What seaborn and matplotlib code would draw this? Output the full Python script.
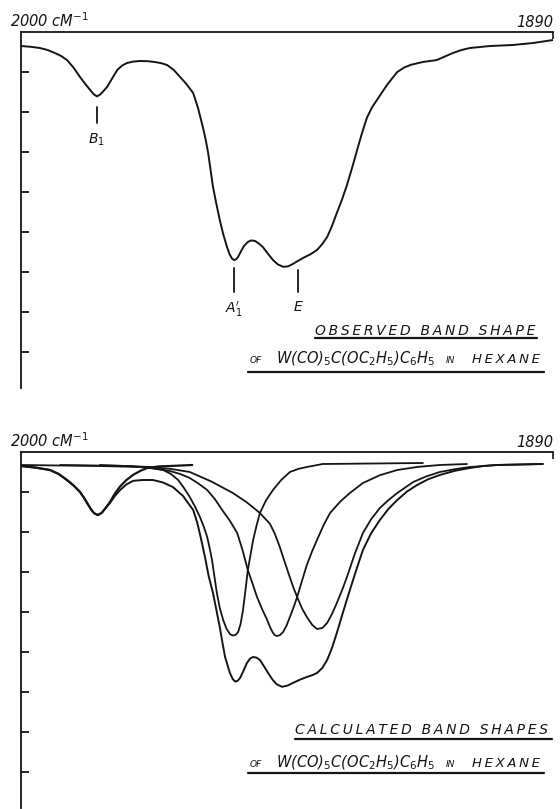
import matplotlib.pyplot as plt
import pandas as pd
import seaborn as sns
from matplotlib.lines import Line2D

# observed IR spectrum (wavenumber cm-1, % transmittance)
obs_wn = [2000.0, 1998.0, 1996.1, 1994.5, 1993.0, 1991.7, 1990.5, 1989.2, 1987.8,
          1986.7, 1985.7, 1985.0, 1984.3, 1983.6, 1982.9, 1982.2, 1981.1, 1980.1,
          1979.1, 1978.1, 1976.8, 1975.4, 1973.8, 1972.3, 1971.0, 1969.8, 1968.4,
          1967.1, 1965.8, 1964.4, 1963.4, 1962.4, 1961.8, 1961.3, 1960.8, 1960.3,
          1959.6, 1958.9, 1958.2, 1957.4, 1956.9, 1956.4, 1956.0, 1955.6, 1955.1,
          1954.7, 1953.9, 1953.1, 1952.4, 1951.6, 1950.8, 1950.0, 1948.9, 1947.9,
          1946.9, 1945.8, 1944.8, 1943.8, 1942.7, 1941.7, 1940.2, 1938.8, 1937.7,
          1936.7, 1935.7, 1934.7, 1933.6, 1932.6, 1931.5, 1930.5, 1929.5, 1928.5,
          1927.4, 1926.4, 1925.3, 1924.3, 1923.2, 1922.2, 1920.8, 1919.4, 1916.9,
          1914.0, 1912.5, 1910.7, 1908.9, 1907.2, 1903.0, 1898.3, 1894.1, 1890.0]
obs_t = [96.5, 96.3, 96.0, 95.5, 94.75, 94.0, 93.0, 91.2, 88.75,
         87.0, 85.5, 84.5, 83.9, 84.4, 85.3, 86.25, 88.5, 90.5,
         91.6, 92.25, 92.6, 92.75, 92.7, 92.5, 92.2, 91.75, 90.5,
         88.75, 87.0, 84.75, 81.0, 76.25, 73.0, 69.75, 65.5, 61.25,
         57.0, 53.0, 49.5, 46.25, 44.5, 43.4, 43.0, 43.1, 43.8,
         44.75, 46.5, 47.5, 47.9, 47.75, 47.1, 46.25, 44.5, 43.0,
         41.9, 41.3, 41.4, 42.0, 42.8, 43.5, 44.4, 45.5, 47.0,
         48.75, 51.5, 54.75, 58.2, 61.75, 66.2, 70.5, 74.7, 78.5,
         81.2, 83.0, 85.0, 86.8, 88.5, 90.0, 91.1, 91.8, 92.5,
         93.0, 93.8, 94.75, 95.5, 96.0, 96.5, 96.75, 97.25, 98.0]

# calculated band shapes: envelope and the single bands
sum_wn = [2000.0, 1997.0, 1994.0, 1992.2, 1990.5, 1989.1, 1987.8, 1987.0, 1986.4,
          1985.6, 1984.9, 1984.1, 1983.3, 1982.5, 1981.6, 1980.6, 1979.5, 1978.2,
          1976.8, 1974.8, 1972.7, 1970.7, 1968.6, 1966.5, 1964.4, 1963.6, 1963.0,
          1962.0, 1961.2, 1960.3, 1959.6, 1958.9, 1958.3, 1957.8, 1957.2, 1956.8,
          1956.2, 1955.7, 1955.2, 1954.7, 1954.0, 1953.3, 1952.6, 1952.0, 1951.3,
          1950.6, 1949.8, 1948.9, 1948.0, 1947.1, 1946.0, 1944.9, 1943.8, 1942.3,
          1940.9, 1939.8, 1938.8, 1937.7, 1936.7, 1935.7, 1934.7, 1933.4, 1932.0,
          1930.6, 1929.3, 1927.6, 1925.8, 1924.0, 1922.2, 1920.2, 1918.1, 1915.8,
          1913.4, 1910.3, 1907.2, 1904.4, 1901.6, 1892.1]
sum_t = [96.5, 96.1, 95.5, 94.5, 93.0, 91.6, 90.0, 88.6, 87.4,
         85.8, 84.7, 84.25, 84.8, 86.0, 87.25, 89.0, 90.5, 91.9,
         92.8, 93.0, 93.0, 92.4, 91.25, 89.0, 85.5, 82.5, 79.5,
         74.0, 69.0, 64.75, 60.5, 56.25, 52.0, 48.75, 46.3, 44.75,
         43.2, 42.6, 42.8, 43.5, 45.3, 47.25, 48.4, 48.75, 48.6,
         48.0, 46.5, 44.75, 43.1, 41.9, 41.3, 41.6, 42.25, 43.1,
         43.75, 44.2, 44.75, 46.0, 48.0, 51.0, 54.75, 60.0, 65.5,
         70.8, 75.5, 79.7, 83.0, 85.8, 88.0, 90.1, 91.75, 93.2,
         94.25, 95.3, 96.0, 96.5, 96.75, 97.0]

b1_wn = [2000.0, 1997.0, 1994.0, 1992.2, 1990.5, 1989.1, 1987.8, 1987.0, 1986.4,
         1985.6, 1984.9, 1984.1, 1983.3, 1982.5, 1981.6, 1980.6, 1979.5, 1978.2,
         1976.8, 1975.3, 1973.9, 1971.5, 1969.2, 1964.6]
b1_t = [96.5, 96.1, 95.5, 94.5, 93.0, 91.6, 90.0, 88.6, 87.4,
        85.8, 84.7, 84.25, 84.8, 86.0, 87.5, 89.6, 91.4, 93.0,
        94.3, 95.3, 96.0, 96.4, 96.5, 96.75]

a1_wn = [2000.0, 1983.7, 1975.4, 1972.8, 1970.6, 1969.0, 1967.5, 1966.3, 1965.1,
         1964.0, 1963.0, 1962.2, 1961.5, 1961.0, 1960.5, 1960.0, 1959.5, 1958.9,
         1958.2, 1957.5, 1956.8, 1956.2, 1955.6, 1955.1, 1954.6, 1954.1, 1953.6,
         1953.1, 1952.5, 1952.0, 1951.3, 1950.6, 1949.3, 1947.9, 1946.2, 1944.4,
         1942.6, 1940.9, 1937.6, 1916.9]
a1_t = [96.75, 96.5, 96.25, 95.9, 95.5, 94.5, 93.0, 91.0, 88.75,
        86.3, 83.75, 81.3, 78.75, 76.0, 73.0, 68.8, 64.75, 61.0,
        58.0, 55.8, 54.5, 54.1, 54.3, 55.0, 57.0, 60.5, 65.3,
        70.5, 74.6, 78.0, 81.6, 84.75, 88.0, 90.5, 93.0, 95.0,
        95.8, 96.25, 97.0, 97.25]

e_wn = [1991.9, 1977.5, 1973.0, 1969.2, 1967.1, 1965.1, 1963.3, 1961.5, 1959.9,
        1958.4, 1956.8, 1955.3, 1954.2, 1953.1, 1952.1, 1951.2, 1950.1, 1949.1,
        1948.5, 1947.9, 1947.5, 1947.1, 1946.5, 1945.8, 1945.1, 1944.4, 1943.6,
        1942.9, 1941.9, 1940.9, 1939.8, 1938.8, 1937.4, 1936.1, 1934.0, 1932.0,
        1929.3, 1925.8, 1922.2, 1917.8, 1913.4, 1907.8]
e_t = [96.75, 96.5, 96.0, 95.25, 94.5, 93.5, 92.1, 90.5, 88.2,
       85.5, 82.8, 79.75, 75.5, 70.5, 67.0, 63.75, 60.6, 58.0,
       56.2, 54.75, 54.2, 54.0, 54.2, 55.0, 56.6, 58.75, 61.3,
       63.75, 67.8, 71.75, 75.2, 78.0, 81.8, 84.75, 87.6, 89.75,
       92.25, 94.2, 95.5, 96.3, 96.75, 97.0]

x_wn = [1983.7, 1973.3, 1969.2, 1965.1, 1960.6, 1956.2, 1953.4, 1950.6, 1948.5,
        1947.5, 1946.5, 1945.5, 1944.5, 1943.7, 1942.9, 1941.9, 1940.9, 1939.8,
        1938.8, 1937.7, 1936.7, 1935.7, 1934.7, 1933.6, 1932.6, 1931.0, 1929.3,
        1927.6, 1925.8, 1924.0, 1922.2, 1918.9, 1916.2, 1913.4, 1910.3, 1907.2,
        1901.6, 1892.1]
x_t = [96.75, 96.25, 95.8, 95.0, 92.6, 89.75, 87.5, 84.75, 82.0,
       79.5, 76.3, 72.6, 69.0, 66.2, 63.75, 60.9, 58.75, 56.8,
       55.75, 56.0, 57.25, 59.5, 62.25, 65.5, 68.75, 74.5, 79.75,
       83.2, 86.0, 88.0, 89.75, 92.5, 93.9, 95.0, 95.7, 96.25,
       96.75, 97.0]

band_labels = ["B$_1$", "A$_1'$", "E"]
band_pos = [1984.3, 1956.0, 1942.7]

INK = "#151515"
W, H = 560, 809

sns.set_style("white")
plt.rcParams["font.family"] = ["DejaVu Sans"]

fig = plt.figure(figsize=(W / 100, H / 100), dpi=100)
ax1 = fig.add_axes([21 / W, 1 - 388 / H, 532 / W, 356 / H])
ax2 = fig.add_axes([21 / W, 1 - 808 / H, 532 / W, 356 / H])


def style_axes(ax):
    ax.set_xlim(2000, 1890)
    ax.set_ylim(11, 100)
    ax.set_xlabel("")
    ax.set_ylabel("")
    for side in ["right", "bottom"]:
        ax.spines[side].set_visible(False)
    for side in ["left", "top"]:
        ax.spines[side].set_color(INK)
        ax.spines[side].set_linewidth(1.3)
    ax.set_yticks([90, 80, 70, 60, 50, 40, 30, 20])
    ax.tick_params(axis="y", direction="in", length=6, width=1.3,
                   color=INK, labelleft=False, left=True)
    ax.xaxis.tick_top()
    ax.set_xticks([1890])
    ax.tick_params(axis="x", direction="in", length=5, width=1.2,
                   color=INK, labeltop=False, top=True)
    ax.grid(False)


def spaced(s):
    return "\u2009".join(s)


def put(px, py, s, size, ha="left"):
    fig.text(px / W, 1 - py / H, s, fontsize=size, style="italic",
             ha=ha, va="baseline", color=INK)


def underline(x0, x1, py, lw=1.6):
    fig.add_artist(Line2D([x0 / W, x1 / W], [1 - py / H, 1 - py / H],
                          transform=fig.transFigure, color=INK, lw=lw))


# observed band shape
df_obs = pd.DataFrame({"wn": obs_wn, "T": obs_t})
sns.lineplot(data=df_obs, x="wn", y="T", ax=ax1, sort=False, estimator=None,
             color=INK, lw=1.4)
style_axes(ax1)

# band markers
for lab, pos, (y0, y1, ty) in zip(band_labels, band_pos,
                                  [(81.25, 77.25, 75.0), (41.0, 35.0, 33.0),
                                   (40.5, 35.0, 33.0)]):
    ax1.plot([pos, pos], [y0, y1], color=INK, lw=1.3)
    ax1.text(pos, ty, lab, ha="center", va="top", fontsize=10,
             style="italic", color=INK)

# calculated band shapes
for wn, t, lw in [(sum_wn, sum_t, 1.4), (b1_wn, b1_t, 1.6), (a1_wn, a1_t, 1.3),
                  (e_wn, e_t, 1.3), (x_wn, x_t, 1.3)]:
    sns.lineplot(x=wn, y=t, ax=ax2, sort=False, estimator=None,
                 color=INK, lw=lw)
style_axes(ax2)

# frequency labels
for top in [27, 447]:
    put(10, top, "2000 c$\\mathregular{M}^{-1}$", 10.5)
    put(553, top, "1890", 10.5, ha="right")

# captions
put(315, 335, spaced("OBSERVED BAND SHAPE"), 10)
underline(315, 537, 338)
put(295, 734, spaced("CALCULATED BAND SHAPES"), 10)
underline(295, 552, 739)

for base, ul in [(363, 372), (767, 773)]:
    put(250, base, "OF", 6.5)
    put(276, base, "W(CO)$_5$C(OC$_2$H$_5$)C$_6$H$_5$", 10.5)
    put(446, base, "IN", 6.5)
    put(472, base, spaced("HEXANE"), 9.5)
    underline(248, 544, ul)

fig.savefig("out.png", dpi=100, facecolor="white")
